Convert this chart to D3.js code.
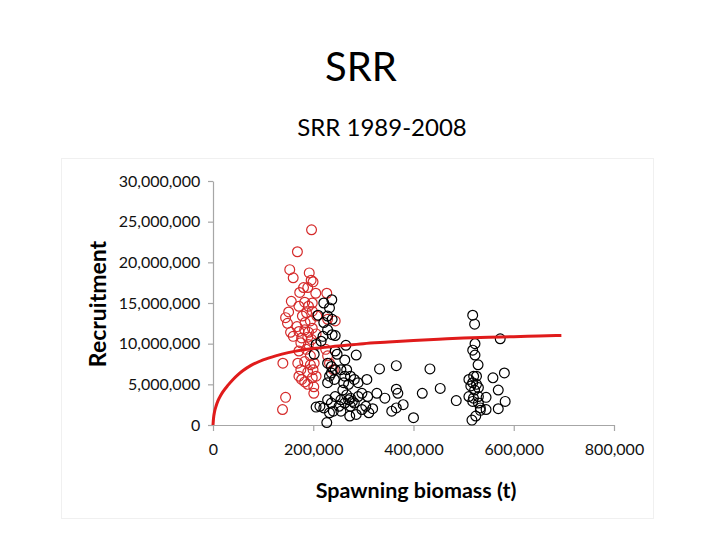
<!DOCTYPE html>
<html>
<head>
<meta charset="utf-8">
<script src="https://cdn.jsdelivr.net/npm/d3@7"></script>
<style>
html,body{margin:0;padding:0;background:#fff;}
svg{display:block;}
</style>
</head>
<body>
<svg id="chart" width="720" height="540"></svg>
<script>
// Data (biomass in thousand tonnes, recruitment in millions)
const title = "SRR";
const subtitle = "SRR 1989-2008";
const xTicks = [0, 200000, 400000, 600000, 800000];
const yTicks = [0, 5000000, 10000000, 15000000, 20000000, 25000000, 30000000];

const redS = [196.6,168.4,153.1,160.0,192.0,195.8,199.6,189.0,180.6,173.0,205.0,227.0,156.2,182.9,198.1,171.4,190.5,150.9,186.7,198.1,144.8,178.3,207.2,148.6,167.6,183.6,194.3,228.6,243.8,154.7,160.0,171.4,182.9,190.5,198.1,205.7,176.8,189.0,196.6,175.2,190.5,171.4,185.9,139.4,194.3,169.1,182.9,194.3,201.9,175.2,189.0,199.6,171.4,176.8,182.9,198.1,205.7,189.0,201.1,201.1,144.8,138.7,224.8,228.6,232.4,240.0];
const redR = [24.0,21.3,19.1,18.1,18.7,17.8,17.6,16.9,16.9,16.3,16.2,16.2,15.2,15.1,15.0,14.6,14.6,13.9,13.8,14.0,13.2,13.4,13.4,12.5,12.1,12.6,12.8,13.0,12.8,11.4,10.9,11.5,11.7,11.4,11.9,11.2,10.7,10.8,10.5,10.1,9.9,9.1,9.3,7.6,8.5,7.6,7.8,7.4,7.6,6.8,6.5,6.8,6.0,5.6,5.3,5.8,6.0,5.0,4.7,3.9,3.4,1.9,9.3,8.5,7.6,6.8];

const blackS = [237.0,221.0,209.5,232.4,228.6,237.7,221.0,228.6,237.7,243.8,219.4,215.6,205.7,265.1,201.9,243.8,247.6,285.7,262.9,228.6,236.2,243.8,236.2,232.4,242.3,228.6,255.2,266.7,262.9,274.3,260.6,270.5,281.9,289.5,332.2,365.7,432.8,307.0,453.3,365.7,368.8,417.5,326.9,342.9,308.6,259.0,266.7,274.3,262.9,274.3,281.9,255.2,270.5,278.1,289.5,297.1,228.6,243.8,236.2,251.4,240.0,221.0,205.7,213.3,232.4,255.2,272.8,285.7,297.1,304.8,318.5,310.9,227.0,356.6,365.7,379.4,400.0,485.3,518.1,521.9,522.7,518.1,522.7,528.8,525.7,510.5,518.1,514.3,525.7,529.5,521.9,510.5,519.6,529.5,518.1,529.5,533.3,516.6,524.2,544.8,544.8,533.3,558.5,569.1,569.1,581.3,582.9,573.0,520.0];
const blackR = [15.4,15.0,13.5,14.4,13.4,13.0,12.6,11.7,11.1,11.0,10.9,10.3,9.9,9.8,8.7,9.1,8.7,8.6,8.0,7.6,7.2,6.8,6.4,6.0,5.6,5.2,6.8,6.8,6.0,6.0,5.2,5.0,5.6,5.2,6.9,7.3,6.9,5.6,4.5,4.4,3.9,3.9,3.9,3.3,3.5,4.3,3.7,3.3,2.7,2.3,2.7,3.1,3.1,2.9,3.5,3.9,3.1,3.5,2.7,2.3,1.7,2.1,2.2,2.3,1.5,1.7,1.1,1.3,1.9,2.3,2.0,1.5,0.3,1.7,2.1,2.5,0.9,3.0,13.5,12.4,10.0,9.2,8.6,7.4,6.0,5.6,5.2,4.8,5.0,4.6,4.3,3.5,3.3,3.5,2.9,2.7,2.1,0.6,1.1,3.4,1.9,1.8,5.8,4.3,2.0,6.4,2.9,10.6,6.0];

// fitted stock-recruitment curve
const curveS = [0,1,3,6,10,15,20,30,40,50,60,75,100,125,150,175,200,250,300,350,400,450,500,550,600,650,695];
const curveR = [0,0.8,1.6,2.3,3.0,3.6,4.1,4.9,5.6,6.2,6.7,7.3,8.0,8.5,8.9,9.2,9.4,9.7,10.0,10.2,10.4,10.55,10.7,10.8,10.85,10.95,11.0];

const svg = d3.select("#chart");
const FONT = "Lato, 'Open Sans', sans-serif";

// faint picture frame
svg.append("rect").attr("x", 61.5).attr("y", 158.5).attr("width", 592).attr("height", 360)
  .attr("fill", "none").attr("stroke", "#f0f0f0").attr("stroke-width", 1);

svg.append("text").attr("x", 361).attr("y", 81).attr("text-anchor", "middle")
  .attr("font-family", FONT).attr("font-size", 40).attr("fill", "#000").text(title);
svg.append("text").attr("x", 382).attr("y", 136).attr("text-anchor", "middle")
  .attr("font-family", FONT).attr("font-size", 24).attr("fill", "#000").text(subtitle);

const x = d3.scaleLinear().domain([0, 800000]).range([213, 614]);
const y = d3.scaleLinear().domain([0, 30000000]).range([425, 181]);
const fmt = d3.format(",");

const xAxis = svg.append("g").attr("transform", `translate(0,${y(0)})`)
  .call(d3.axisBottom(x).tickValues(xTicks).tickFormat(fmt).tickSize(6).tickSizeOuter(0));
const yAxis = svg.append("g").attr("transform", `translate(${x(0)},0)`)
  .call(d3.axisLeft(y).tickValues(yTicks).tickFormat(fmt).tickSize(5).tickSizeOuter(0));

[xAxis, yAxis].forEach(a => {
  a.select(".domain").attr("stroke", "#a6a6a6").attr("stroke-width", 1.2);
  a.selectAll(".tick line").attr("stroke", "#a6a6a6").attr("stroke-width", 1.2);
  a.selectAll(".tick text").attr("font-family", FONT).attr("font-size", 16).attr("fill", "#111");
});
xAxis.selectAll(".tick text").attr("dy", "1.3em");
yAxis.selectAll(".tick text").attr("dx", "-0.3em");

svg.append("text").attr("transform", "translate(106,304) rotate(-90)").attr("text-anchor", "middle")
  .attr("font-family", FONT).attr("font-weight", "bold").attr("font-size", 23).attr("fill", "#000").text("Recruitment");
svg.append("text").attr("x", 416).attr("y", 498).attr("text-anchor", "middle")
  .attr("font-family", FONT).attr("font-weight", "bold").attr("font-size", 21.5).attr("fill", "#000").text("Spawning biomass  (t)");

const g = svg.append("g");
g.selectAll("circle.red").data(redS.map((s, i) => [s, redR[i]])).join("circle")
  .attr("class", "red")
  .attr("cx", d => x(d[0] * 1000)).attr("cy", d => y(d[1] * 1e6)).attr("r", 4.9)
  .attr("fill", "none").attr("stroke", "#d52a2a").attr("stroke-width", 1.2);
g.selectAll("circle.blk").data(blackS.map((s, i) => [s, blackR[i]])).join("circle")
  .attr("class", "blk")
  .attr("cx", d => x(d[0] * 1000)).attr("cy", d => y(d[1] * 1e6)).attr("r", 4.9)
  .attr("fill", "none").attr("stroke", "#000").attr("stroke-width", 1.2);

const line = d3.line().x(d => x(d[0] * 1000)).y(d => y(d[1] * 1e6)).curve(d3.curveMonotoneX);
svg.append("path").datum(curveS.map((s, i) => [s, curveR[i]]))
  .attr("d", line).attr("fill", "none").attr("stroke", "#e01b1b").attr("stroke-width", 3);
</script>
</body>
</html>
